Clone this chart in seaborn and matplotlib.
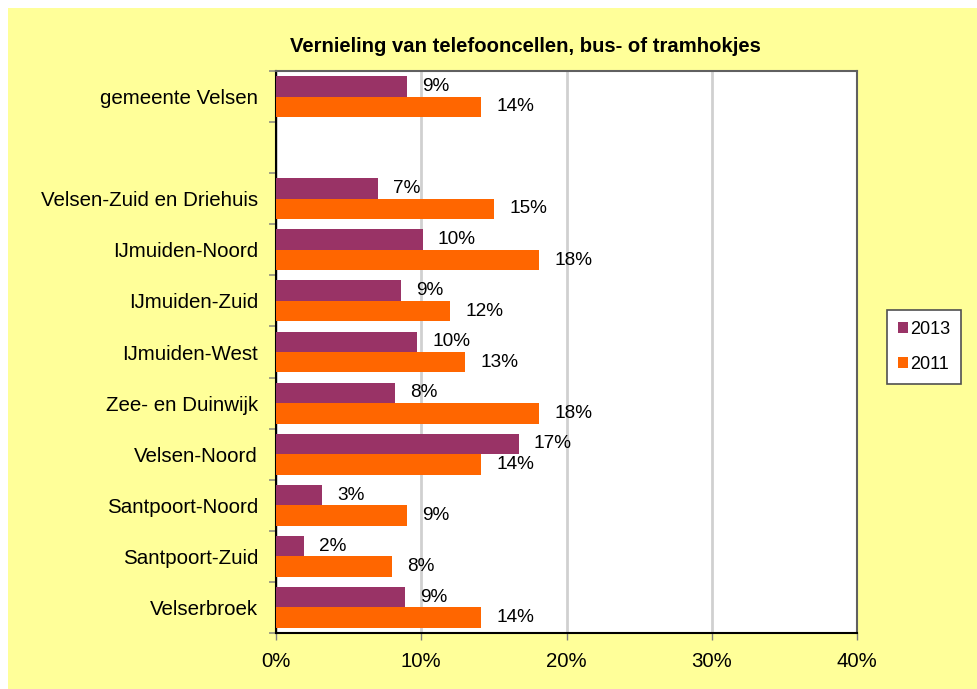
import matplotlib
matplotlib.use("Agg")
import matplotlib.pyplot as plt
import matplotlib.patches as mpatches
from matplotlib.ticker import FixedLocator, FuncFormatter
import seaborn as sns
import pandas as pd

# ---- data ----
categories = ["gemeente Velsen", "Velsen-Zuid en Driehuis", "IJmuiden-Noord",
              "IJmuiden-Zuid", "IJmuiden-West", "Zee- en Duinwijk", "Velsen-Noord",
              "Santpoort-Noord", "Santpoort-Zuid", "Velserbroek"]
values_2013 = [9.0, 7.0, 10.1, 8.6, 9.7, 8.2, 16.7, 3.2, 1.9, 8.9]
values_2011 = [14.1, 15.0, 18.1, 12.0, 13.0, 18.1, 14.1, 9.0, 8.0, 14.1]
series = ["2013", "2011"]
x_ticks = [0, 10, 20, 30, 40]
title = "Vernieling van telefooncellen, bus- of tramhokjes"

gap_label = " "
order = [categories[0], gap_label] + categories[1:]

df = pd.DataFrame({
    "gebied": categories * 2,
    "jaar": [series[0]] * len(categories) + [series[1]] * len(categories),
    "waarde": values_2013 + values_2011,
})

plt.rcParams["font.family"] = ["Liberation Sans", "DejaVu Sans"]

W, H = 977, 689
fig = plt.figure(figsize=(W / 100, H / 100), dpi=100)
fig.patch.set_facecolor("white")
fig.patches.append(mpatches.Rectangle((8 / W, 0), 1, 1 - 8 / H, transform=fig.transFigure,
                                      facecolor="#FFFF99", edgecolor="none", zorder=-10))

left, right, top, bottom = 276 / W, 857 / W, 1 - 71 / H, 1 - 633 / H
ax = fig.add_axes([left, bottom, right - left, top - bottom])
ax.set_facecolor("white")

palette = {"2013": "#993366", "2011": "#FF6600"}
sns.barplot(data=df, y="gebied", x="waarde", hue="jaar", hue_order=series, order=order,
            orient="h", palette=palette, width=0.8, saturation=1, ax=ax,
            edgecolor="none", linewidth=0, legend=True, zorder=3)

for c in ax.containers:
    ax.bar_label(c, fmt=lambda v: f"{v:.0f}%", padding=11, fontsize=13.7, color="black")

ax.set_xlim(0, 40)
ax.set_ylim(len(order) - 0.5, -0.5)
ax.xaxis.set_major_locator(FixedLocator(x_ticks))
ax.xaxis.set_major_formatter(FuncFormatter(lambda v, p: f"{v:.0f}%"))
ax.grid(axis="x", color="#D0D0D0", linewidth=2, zorder=0)
ax.set_axisbelow(True)
ax.set_xlabel("")
ax.set_ylabel("")

ax.tick_params(axis="x", length=5, width=1, color="#808080", pad=9, labelsize=14.7)
ax.tick_params(axis="y", which="major", length=0, pad=13, labelsize=14.8)
ax.yaxis.set_minor_locator(FixedLocator([i - 0.5 for i in range(len(order) + 1)]))
ax.tick_params(axis="y", which="minor", length=5, width=1.2, color="#909080")

ax.spines["left"].set_color("black")
ax.spines["left"].set_linewidth(1.5)
ax.spines["bottom"].set_color("black")
ax.spines["bottom"].set_linewidth(1.5)
ax.spines["top"].set_color("#606060")
ax.spines["top"].set_linewidth(1.5)
ax.spines["right"].set_color("#606060")
ax.spines["right"].set_linewidth(1.5)

handles = [mpatches.Patch(facecolor=palette[s], edgecolor="none") for s in series]
if ax.get_legend() is not None:
    ax.get_legend().remove()
leg = fig.legend(handles, series, loc="center left",
                 bbox_to_anchor=(887 / W, 1 - 347 / H), bbox_transform=fig.transFigure,
                 fontsize=13, frameon=True, fancybox=False, framealpha=1,
                 handlelength=0.55, handleheight=0.55,
                 handletextpad=0.15, labelspacing=1.0, borderpad=0.6, borderaxespad=0)
leg.get_frame().set_edgecolor("#505050")
leg.get_frame().set_linewidth(1.2)
leg.get_frame().set_facecolor("white")

fig.text(525 / W, 1 - 47 / H, title, ha="center", va="center", fontsize=14.6,
         fontweight="bold", color="black")

fig.savefig("out.png", dpi=100, facecolor=fig.get_facecolor())
